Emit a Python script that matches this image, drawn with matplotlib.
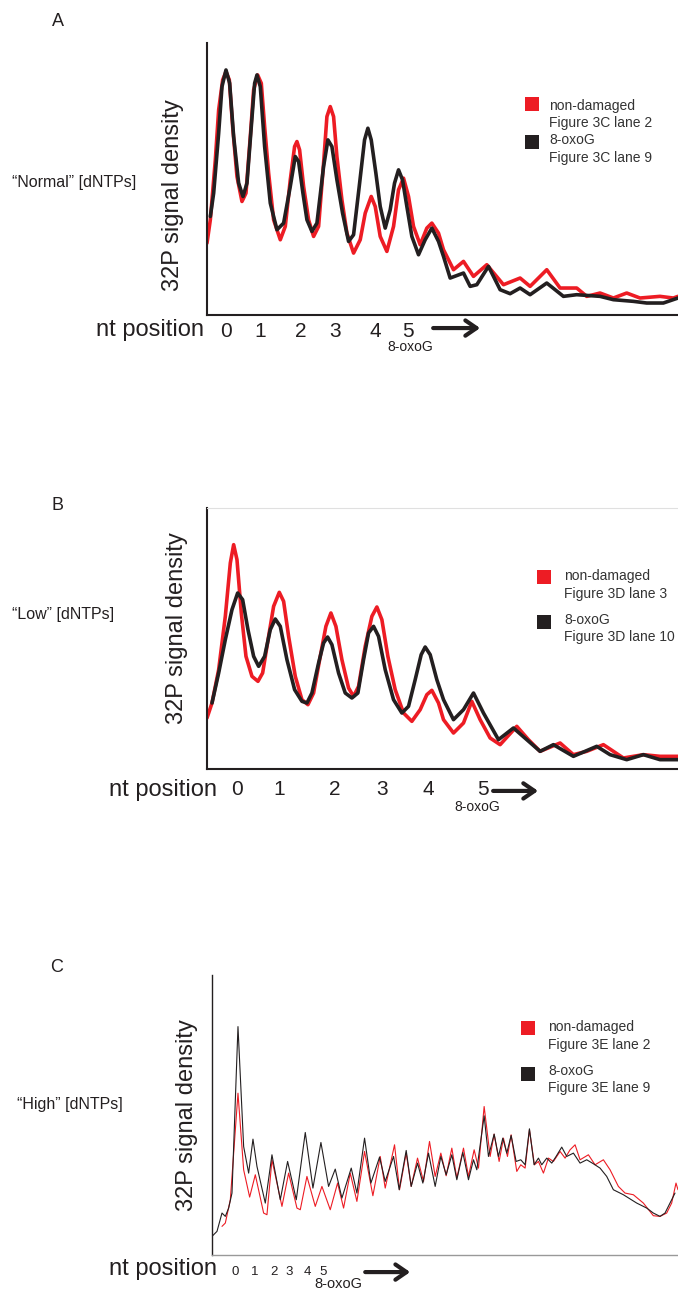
import matplotlib.pyplot as plt
from matplotlib.patches import Rectangle

plt.rcParams['font.family'] = ['Liberation Sans', 'DejaVu Sans']

RED = '#ed1c24'
BLACK = '#231f20'

# Panel A - "Normal" [dNTPs]  (x: migration distance, y: 32P signal density, arbitrary units)
a_red_x = [0, 10, 25, 35, 47, 57, 67, 77, 90, 105, 117, 130, 140, 152, 163, 173, 185, 200, 220, 235,
           250, 263, 270, 278, 290, 305, 320, 335, 350, 360, 370, 380, 390, 405, 420, 440, 460, 475,
           493, 505, 520, 540, 560, 575, 590, 605, 620, 640, 660, 675, 695, 710,
           740, 770, 800, 840, 890, 940, 970, 1020, 1060, 1110, 1140, 1180, 1220, 1260, 1300, 1360,
           1400, 1414]
a_red_y = [216, 286, 466, 616, 706, 731, 706, 566, 416, 341, 366, 536, 676, 721, 696, 566, 426, 286, 226, 266,
           406, 506, 521, 496, 386, 286, 236, 266, 456, 596, 626, 596, 476, 346, 246, 186, 226, 306,
           356, 326, 236, 191, 266, 376, 411, 356, 266, 211, 261, 276, 246, 196,
           136, 161, 116, 151, 91, 111, 86, 136, 81, 81, 56, 66, 51, 66, 51, 56,
           51, 56]
a_blk_x = [10, 20, 35, 45, 57, 68, 80, 95, 108, 120, 133, 143, 150, 160, 173, 190, 210, 230, 250, 265,
           275, 288, 300, 315, 330, 350, 363, 375, 390, 407, 425, 440, 457, 473, 483, 493, 507, 520,
           535, 550, 563, 575, 587, 600, 615, 635, 655, 675, 695, 710,
           730, 770, 790, 810, 845, 880, 910, 940, 970, 1020, 1070, 1110, 1180, 1220, 1280, 1320,
           1370, 1414]
a_blk_y = [296, 366, 546, 686, 736, 696, 536, 396, 356, 396, 566, 696, 721, 686, 506, 336, 256, 276, 386, 476,
           461, 366, 286, 251, 276, 446, 526, 506, 406, 306, 221, 241, 386, 526, 561, 526, 426, 326,
           261, 316, 396, 436, 406, 326, 236, 181, 226, 261, 221, 176,
           111, 126, 86, 91, 146, 76, 64, 81, 61, 96, 56, 61, 56, 46, 41, 36,
           36, 51]
a_ticks = [58, 160, 280, 385, 505, 604]
a_tick_labels = ['0', '1', '2', '3', '4', '5']

# Panel B - "Low" [dNTPs]
b_red_x = [0, 15, 35, 55, 70, 80, 90, 103, 117, 135, 153, 167, 185, 200, 217, 230, 245, 265, 285, 303,
           320, 340, 357, 372, 387, 405, 425, 440, 455, 475, 495, 510, 525, 543, 565, 590, 615, 640,
           660, 675, 695, 710,
           740, 770, 795, 820, 850, 880, 930, 965, 1000, 1060, 1100, 1140, 1190, 1250, 1310, 1360, 1414]
b_red_y = [153, 198, 298, 458, 618, 673, 628, 468, 338, 278, 263, 288, 398, 488, 530, 503, 398, 278, 208, 193,
           228, 338, 428, 468, 428, 328, 243, 218, 248, 368, 458, 486, 448, 338, 238, 168, 143, 178,
           223, 236, 198, 148,
           108, 138, 203, 148, 93, 73, 128, 88, 53, 78, 43, 53, 73, 33, 43, 38, 38]
b_blk_x = [15, 35, 55, 75, 92, 107, 123, 140, 155, 173, 190, 205, 220, 240, 263, 285, 300, 315, 335, 350,
           362, 375, 395, 415, 435, 453, 470, 485, 500, 515, 535, 560, 585, 605, 625, 643, 655, 670,
           690, 710,
           740, 770, 800, 830, 875, 920, 960, 1000, 1040, 1100, 1170, 1210, 1260, 1310, 1360, 1414]
b_blk_y = [198, 288, 388, 478, 528, 508, 418, 338, 308, 338, 418, 450, 428, 328, 238, 203, 198, 228, 318, 378,
           396, 373, 288, 228, 213, 228, 328, 408, 428, 398, 298, 208, 168, 188, 268, 343, 366, 343,
           268, 208,
           148, 178, 228, 168, 88, 123, 88, 53, 73, 38, 68, 43, 28, 43, 28, 28]
b_ticks = [91, 217, 385, 526, 664, 829]
b_tick_labels = ['0', '1', '2', '3', '4', '5']

# Panel C - "High" [dNTPs]
c_red_x = [30, 40, 55, 78, 95, 113, 130, 155, 165, 180, 210, 230, 255, 265, 285, 310, 330, 355, 377,
           395, 415, 435, 458, 483, 505, 520, 548, 563, 583, 598, 617, 635, 653, 670, 687, 703, 720,
           735, 755, 770, 787, 800, 817, 835, 847, 862, 875, 887, 898, 915, 927, 940, 953, 968, 980,
           995, 1010, 1025, 1045, 1060, 1075, 1090, 1105, 1130, 1150, 1175, 1195, 1220, 1240, 1265,
           1295, 1325, 1345, 1365, 1380, 1393, 1399]
c_red_y = [86, 96, 166, 486, 256, 174, 241, 126, 121, 286, 146, 246, 141, 136, 236, 146, 206, 136, 216,
           141, 246, 161, 311, 178, 296, 201, 331, 196, 306, 206, 291, 221, 341, 236, 306, 238, 321,
           231, 321, 236, 316, 261, 446, 296, 363, 281, 351, 296, 361, 251, 271, 261, 376, 271, 281,
           246, 291, 281, 311, 291, 316, 331, 286, 301, 271, 286, 256, 206, 186, 181,
           156, 118, 116, 126, 156, 216, 196]
c_blk_x = [0, 15, 30, 40, 50, 60, 78, 95, 110, 123, 135, 160, 180, 205, 227, 253, 280, 303, 327, 350,
           370, 390, 418, 435, 458, 477, 503, 520, 545, 562, 583, 598, 617, 633, 650, 670, 687, 703,
           720, 735, 753, 770, 785, 795, 817, 830, 847, 860, 873, 885, 898, 913, 927, 940, 953, 967,
           980, 990, 1005, 1020, 1033, 1050, 1065, 1085, 1105, 1125, 1145, 1165, 1185, 1205, 1235,
           1275, 1305, 1325, 1345, 1360, 1375, 1390]
c_blk_y = [56, 71, 126, 116, 141, 186, 686, 326, 246, 348, 266, 156, 301, 166, 281, 166, 368, 201, 338, 206,
           258, 171, 261, 186, 351, 216, 294, 221, 296, 196, 314, 206, 276, 216, 306, 206, 296, 241,
           301, 226, 308, 226, 286, 256, 418, 296, 363, 296, 351, 306, 359, 281, 286, 271, 379, 271,
           291, 271, 291, 276, 296, 324, 296, 306, 276, 286, 274, 261, 236, 196, 181,
           156, 141, 126, 116, 126, 156, 186]
c_ticks = [70, 127, 187, 232, 286, 334]
c_tick_labels = ['0', '1', '2', '3', '4', '5']

W, H = 678, 1290
fig = plt.figure(figsize=(W / 100, H / 100), dpi=100)


def px_rect(left, top, right, bottom):
    return [left / W, 1 - bottom / H, (right - left) / W, (bottom - top) / H]


def draw_panel(ax, rx, ry, bx, by, xmax, ymax, lw, spine_lw, bottom_color):
    ax.plot(rx, ry, color=RED, lw=lw, solid_joinstyle='round', solid_capstyle='round')
    ax.plot(bx, by, color=BLACK, lw=lw, solid_joinstyle='round', solid_capstyle='round')
    ax.set_xlim(0, xmax)
    ax.set_ylim(0, ymax)
    ax.set_xticks([])
    ax.set_yticks([])
    for s in ['top', 'right']:
        ax.spines[s].set_visible(False)
    ax.spines['left'].set_linewidth(spine_lw)
    ax.spines['left'].set_color(BLACK)
    ax.spines['bottom'].set_linewidth(spine_lw)
    ax.spines['bottom'].set_color(bottom_color)


def add_key(ax, x_sq, x_txt, ys, yt, sw, sh, labels, fs):
    for color, y_sq, y_t, lab in zip([RED, BLACK], ys, yt, labels):
        ax.add_patch(Rectangle((x_sq, y_sq - sh / 2), sw, sh, transform=ax.transAxes,
                               color=color, clip_on=False, lw=0))
        ax.text(x_txt, y_t, lab, transform=ax.transAxes, va='center', ha='left',
                fontsize=fs, color='#333333', linespacing=1.3)


def add_xaxis_text(ax, ticks, labels, y_tick, fs_tick, ox_x, ox_y, fs_ox, arr_x0, arr_x1, arr_y):
    tr = ax.get_xaxis_transform()
    for t, lab in zip(ticks, labels):
        ax.text(t, y_tick, lab, transform=tr, ha='center', va='center', fontsize=fs_tick, color=BLACK)
    ax.text(ox_x, ox_y, '8-oxoG', transform=tr, ha='center', va='center', fontsize=fs_ox, color=BLACK)
    ax.annotate('', xy=(arr_x1, arr_y), xytext=(arr_x0, arr_y), xycoords=tr, textcoords=tr,
                arrowprops=dict(arrowstyle='->,head_length=0.8,head_width=0.55', lw=3,
                                color=BLACK, shrinkA=0, shrinkB=0), annotation_clip=False)


# ---- A ----
axA = fig.add_axes(px_rect(207, 43, 678, 315))
draw_panel(axA, a_red_x, a_red_y, a_blk_x, a_blk_y, 1414, 817, 2.6, 1.5, BLACK)
add_key(axA, 0.675, 0.726, [0.774, 0.636], [0.736, 0.610], 14 / 471, 14 / 272,
        ['non-damaged\nFigure 3C lane 2', '8-oxoG\nFigure 3C lane 9'], 10)
add_xaxis_text(axA, a_ticks, a_tick_labels, -0.059, 15, 610, -0.118, 10, 679, 820, -0.048)

# ---- B ----
axB = fig.add_axes(px_rect(207, 508, 678, 769))
draw_panel(axB, b_red_x, b_red_y, b_blk_x, b_blk_y, 1414, 783, 2.6, 1.5, BLACK)
axB.spines['top'].set_visible(True)
axB.spines['top'].set_color('#e0e0e0')
axB.spines['top'].set_linewidth(0.8)
add_key(axB, 0.701, 0.758, [0.734, 0.565], [0.705, 0.538], 14 / 471, 14 / 261,
        ['non-damaged\nFigure 3D lane 3', '8-oxoG\nFigure 3D lane 10'], 10)
add_xaxis_text(axB, b_ticks, b_tick_labels, -0.080, 15, 811, -0.146, 10, 859, 994, -0.084)

# ---- C ----
axC = fig.add_axes(px_rect(212, 975, 678, 1255))
draw_panel(axC, c_red_x, c_red_y, c_blk_x, c_blk_y, 1399, 841, 0.8, 1.0, '#999999')
add_key(axC, 0.663, 0.721, [0.809, 0.648], [0.782, 0.627], 14 / 466, 14 / 280,
        ['non-damaged\nFigure 3E lane 2', '8-oxoG\nFigure 3E lane 9'], 10)
add_xaxis_text(axC, c_ticks, c_tick_labels, -0.061, 9.5, 379, -0.104, 10.5, 460, 595, -0.061)

# labels outside the axes
panel_letters = ['A', 'B', 'C']
conditions = ['\u201cNormal\u201d [dNTPs]', '\u201cLow\u201d [dNTPs]', '\u201cHigh\u201d [dNTPs]']
letter_pos = [(58, 22), (57, 505), (57, 968)]
cond_pos = [(12, 182), (12, 615), (17, 1105)]
ylab_pos = [(173, 195), (177, 628), (187, 1115)]
ntpos_pos = [(204, 330), (217, 790), (217, 1269)]

for letter, cond, lp, cp, yp, npos in zip(panel_letters, conditions, letter_pos, cond_pos,
                                          ylab_pos, ntpos_pos):
    fig.text(lp[0] / W, 1 - lp[1] / H, letter, ha='center', va='center', fontsize=13, color=BLACK)
    fig.text(cp[0] / W, 1 - cp[1] / H, cond, ha='left', va='center', fontsize=11.5, color=BLACK)
    fig.text(yp[0] / W, 1 - yp[1] / H, '32P signal density', ha='center', va='center',
             rotation=90, fontsize=17, color=BLACK)
    fig.text(npos[0] / W, 1 - npos[1] / H, 'nt position', ha='right', va='center',
             fontsize=17, color=BLACK)

fig.savefig('out.png', dpi=100)
